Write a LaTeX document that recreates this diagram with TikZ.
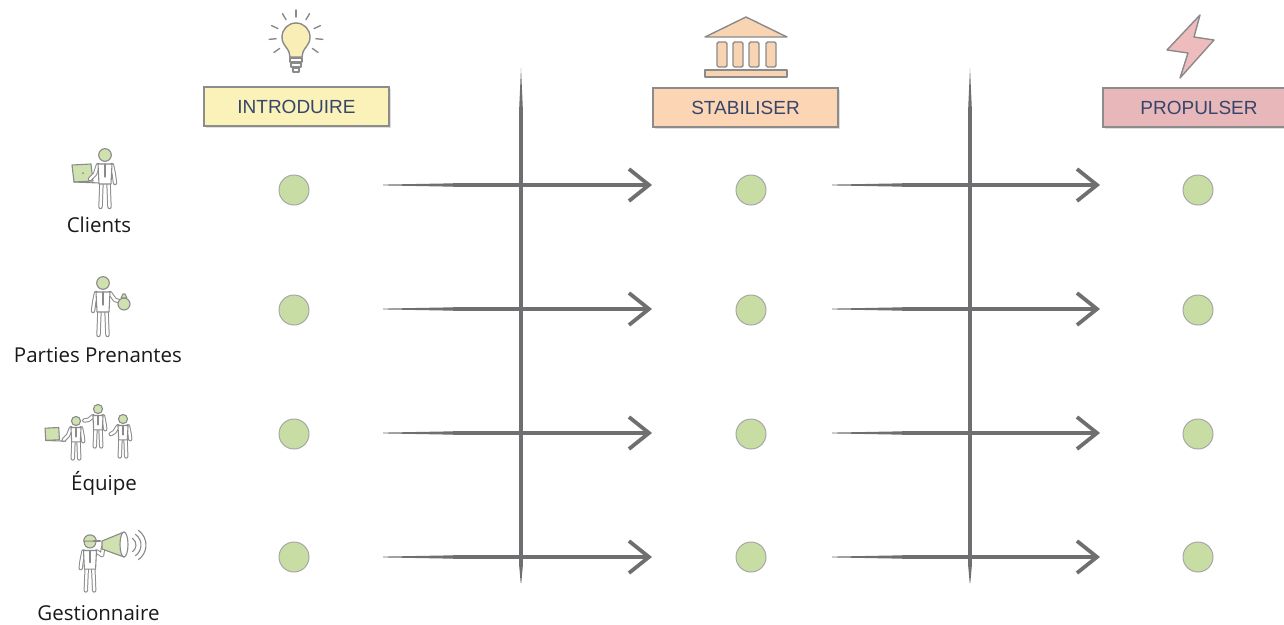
\documentclass[tikz,border=0pt]{standalone}
\usepackage{fontspec}
\setmainfont{Liberation Sans}
\newfontfamily\rolefont{Open Sans}
\usetikzlibrary{arrows.meta,shadows,calc}

\definecolor{ink}{HTML}{6F6F72}
\definecolor{figline}{HTML}{8A8A8A}
\definecolor{headgreen}{HTML}{CFE1AE}
\definecolor{dotgreen}{HTML}{C8DDA4}
\definecolor{boxline}{HTML}{8C8C8C}
\definecolor{titleblue}{HTML}{36456A}
\definecolor{introfill}{HTML}{FBF2B9}
\definecolor{stabfill}{HTML}{FCD5B5}
\definecolor{propfill}{HTML}{E7B7B9}
\definecolor{bulbfill}{HTML}{F9EFB6}
\definecolor{templefill}{HTML}{F9D4B3}
\definecolor{boltfill}{HTML}{EEBCBC}

\tikzset{
  phasebox/.style={draw=boxline, line width=1.2pt, minimum height=39pt,
    inner sep=0pt, text=titleblue, font=\fontsize{19}{21}\selectfont,
    drop shadow={shadow xshift=2pt, shadow yshift=-2pt, opacity=0.25}},
  dot/.style={circle, draw=figline!75, line width=1pt, fill=dotgreen,
    minimum size=30pt, inner sep=0pt},
  flow/.style={draw=ink, line width=3.4pt,
    -{Straight Barb[length=20pt,width=32pt,line width=3.8pt]}},
  divider/.style={draw=ink, line width=3.8pt},
  role/.style={font=\rolefont\fontsize{20.5}{22}\selectfont, text=black!90, anchor=base},
  limb/.style={draw=figline, double=white, double distance=2.4pt, line width=1pt,
    line cap=round, line join=round},
  figstroke/.style={draw=figline, line width=1.1pt, line join=round, line cap=round},
  iconstroke/.style={draw=figline, line width=1.4pt, line join=round, line cap=round}
}

% stick figure body, origin at the hips
\newcommand\stickbody{%
  \draw[limb] (-3.5,-2) -- (-4.5,22);
  \draw[limb] (3.5,-2) -- (4.5,22);
  \filldraw[figstroke, fill=white] (-7,-21) -- (7,-21) -- (6,-1) -- (-6,-1) -- cycle;
  \draw[figstroke] (0,-21) -- (0,-8);
  \filldraw[figstroke, fill=headgreen] (0,-30) circle[radius=6.3];
}

\begin{document}
\begin{tikzpicture}[x=1pt,y=-1pt]
\useasboundingbox (0,0) rectangle (1284,624);

% ---------- phase headers ----------
\node[phasebox, fill=introfill, minimum width=185pt] (intro) at (296.5,106.5) {INTRODUIRE};
\node[phasebox, fill=stabfill, minimum width=185pt] (stab) at (745.5,107.5) {STABILISER};
\node[phasebox, fill=propfill, minimum width=192pt] (prop) at (1199,107.5) {PROPULSER};

% light bulb
\filldraw[iconstroke, fill=bulbfill] (290,57) -- (289,52)
  .. controls (288,48) and (282,45) .. (282,37)
  arc[start angle=180, end angle=360, radius=14]
  .. controls (310,45) and (304,48) .. (303,52) -- (302,57) -- cycle;
\filldraw[iconstroke, fill=white] (290,58) rectangle (302,62);
\filldraw[iconstroke, fill=white] (291,63) rectangle (301,67);
\filldraw[iconstroke, fill=white] (293,68) rectangle (299,72);
\foreach \a in {-90,-60,-120,-25,-155,5,175,35,145}
  \draw[iconstroke] ($(296,37)+(\a:20)$) -- ($(296,37)+(\a:27)$);

% temple
\filldraw[iconstroke, fill=templefill] (705,37) -- (746,17) -- (787,37) -- cycle;
\foreach \cx in {717,733,749,766}
  \filldraw[iconstroke, fill=templefill, rounded corners=1.5pt] (\cx,42) rectangle ++(10,25);
\filldraw[iconstroke, fill=templefill] (705,70) rectangle (787,77);

% lightning bolt
\filldraw[iconstroke, fill=boltfill] (1200,15) -- (1167,50) -- (1188,53) -- (1180,78)
  -- (1214,40) -- (1194,37) -- cycle;

% ---------- dividers ----------
\foreach \dx in {521,970} {
  \draw[divider] (\dx,110) -- (\dx,565);
  \fill[ink] (\dx,68) -- (\dx+1.9,110) -- (\dx-1.9,110) -- cycle;
  \fill[ink] (\dx-1.9,565) -- (\dx+1.9,565) -- (\dx+0.3,583) -- (\dx-0.3,583) -- cycle;
}

% ---------- rows: milestones and flows ----------
\foreach \r/\ly/\cy in {1/185/190, 2/309/310, 3/433/434, 4/557/557} {
  \node[dot] (c\r a) at (294,\cy) {};
  \node[dot] (c\r b) at (751,\cy) {};
  \node[dot] (c\r c) at (1198,\cy) {};
  \coordinate (s\r a) at (383,\ly);
  \coordinate (e\r a) at (652,\ly);
  \coordinate (s\r b) at (832,\ly);
  \coordinate (e\r b) at (1100,\ly);
  \draw[flow, shorten <=70pt] (s\r a) -- (e\r a);
  \draw[flow, shorten <=70pt] (s\r b) -- (e\r b);
  \fill[ink] ($(s\r a)+(0,-0.4)$) -- ($(s\r a)+(71,-1.7)$) -- ($(s\r a)+(71,1.7)$) -- ($(s\r a)+(0,0.4)$) -- cycle;
  \fill[ink] ($(s\r b)+(0,-0.4)$) -- ($(s\r b)+(71,-1.7)$) -- ($(s\r b)+(71,1.7)$) -- ($(s\r b)+(0,0.4)$) -- cycle;
}

% ---------- roles ----------
\node[role] (clients) at (99,232) {Clients};
\node[role] (parties) at (98,362) {Parties Prenantes};
\node[role] (equipe) at (104,490) {Équipe};
\node[role] (gest) at (98.5,620) {Gestionnaire};

% client with laptop
\begin{scope}[shift={(105,185)}]
  \filldraw[figstroke, fill=headgreen] (-33,-20) -- (-14,-21) -- (-12,-4) -- (-31,-3) -- cycle;
  \draw[figstroke] (-31,-3) -- (-5,-2);
  \fill[figline] (-22,-12) circle[radius=1];
  \draw[limb] (-7,-20) -- (-10,-11) -- (-15,-6);
  \draw[limb] (7,-20) -- (9,-10) -- (10,-2);
  \stickbody
\end{scope}

% stakeholder with money bag
\begin{scope}[shift={(103,313)}]
  \draw[limb] (-7,-20) -- (-9,-10) -- (-10,-2);
  \draw[limb] (7,-20) -- (12,-13) -- (16,-12);
  \stickbody
  \filldraw[figstroke, fill=headgreen] (21,-9) circle[radius=6];
  \filldraw[figstroke, fill=headgreen] (18,-15) -- (24,-15) -- (22,-19) -- (20,-19) -- cycle;
\end{scope}

% team
\begin{scope}[shift={(76,442.6)}, scale=0.72]
  \filldraw[figstroke, fill=headgreen] (-43,-20) -- (-24,-21) -- (-23,-4) -- (-42,-3) -- cycle;
  \draw[figstroke] (-42,-3) -- (-14,-2);
  \draw[limb] (-7,-20) -- (-11,-10) -- (-17,-4);
  \draw[limb] (7,-20) -- (9,-10) -- (10,-2);
  \stickbody
\end{scope}
\begin{scope}[shift={(98,430.6)}, scale=0.72]
  \draw[limb] (-7,-20) -- (-13,-15) -- (-19,-14);
  \draw[limb] (7,-20) -- (9,-10) -- (10,-2);
  \stickbody
\end{scope}
\begin{scope}[shift={(123,440.6)}, scale=0.72]
  \draw[limb] (-7,-20) -- (-12,-12) -- (-17,-9);
  \draw[limb] (7,-20) -- (9,-10) -- (10,-2);
  \stickbody
\end{scope}

% manager with megaphone
\begin{scope}[shift={(90,570)}, scale=0.93]
  \draw[limb] (-7,-20) -- (-9,-10) -- (-10,-2);
  \draw[limb] (7,-20) -- (13,-16) -- (14,-24);
  \stickbody
  \filldraw[figstroke, fill=headgreen] (-6.8,-31) arc[start angle=180, end angle=360, radius=6.8] -- cycle;
  \draw[figstroke, line width=1.6pt] (4,-31) -- (11,-31);
\end{scope}
\filldraw[figstroke, fill=headgreen] (102,541) -- (124,532) -- (124,557) -- (102,549) -- cycle;
\filldraw[figstroke, fill=white] (124,544.5) ellipse[x radius=4, y radius=12.5];
\foreach \rr in {8,13,18}
  \draw[figstroke] ($(128,545)+(-55:\rr)$) arc[start angle=-55, end angle=55, radius=\rr];
\end{tikzpicture}
\end{document}
